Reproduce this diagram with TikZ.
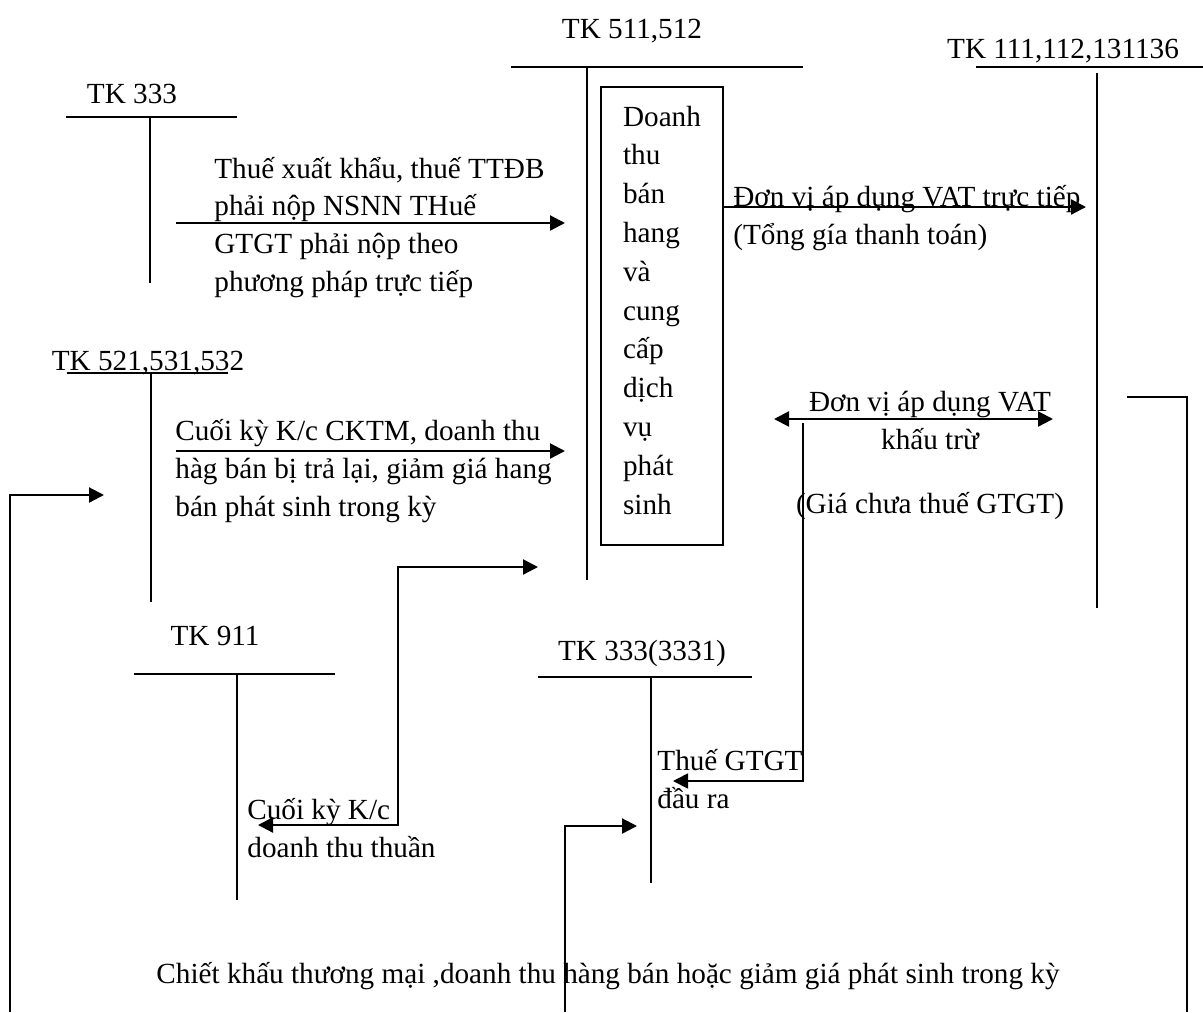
\documentclass[tikz,border=0pt]{standalone}
\usepackage{fontspec}
\setmainfont{Liberation Serif}
\usetikzlibrary{arrows.meta}
\tikzset{
 tk line/.style={line width=.7pt},
 tk flow/.style={line width=1.1pt,-{Triangle[length=7.5pt,width=7.5pt]}},
 tk both/.style={line width=1.1pt,
                 {Triangle[length=7.5pt,width=7.5pt]}-{Triangle[length=7.5pt,width=7.5pt]}},
 tk link/.style={line width=.9pt},
 tk box/.style={draw,line width=.6pt,align=left,inner sep=0pt,text depth=6pt,
                minimum width=61pt,minimum height=229pt,
                font=\fontsize{14.6}{19.4}\selectfont},
 tk label/.style={inner sep=0pt,anchor=base},
 tk note/.style={inner sep=0pt,anchor=base west,align=left}
}

\begin{document}
\begin{tikzpicture}[x=.5pt,y=-.5pt,font=\fontsize{14.6}{18.8}\selectfont]
 \useasboundingbox (0,0) rectangle (1203,1012);
 % T accounts
 \coordinate (t1L) at (66,117);  \coordinate (t1R) at (237,117);
 \coordinate (t1T) at (150,117); \coordinate (t1B) at (150,283);
 \coordinate (t2L) at (511,67);  \coordinate (t2R) at (803,67);
 \coordinate (t2T) at (587,67);  \coordinate (t2B) at (587,580);
 \coordinate (t3L) at (976,67);  \coordinate (t3R) at (1203,67);
 \coordinate (t3T) at (1097,73); \coordinate (t3B) at (1097,608);
 \coordinate (t4L) at (67,373);  \coordinate (t4R) at (228,373);
 \coordinate (t4T) at (151,373); \coordinate (t4B) at (151,602);
 \coordinate (t5L) at (134,674); \coordinate (t5R) at (335,674);
 \coordinate (t5T) at (237,674); \coordinate (t5B) at (237,900);
 \coordinate (t6L) at (538,677); \coordinate (t6R) at (752,677);
 \coordinate (t6T) at (651,677); \coordinate (t6B) at (651,883);
 \foreach \t in {1,...,6} \draw[tk line] (t\t L)--(t\t R) (t\t T)--(t\t B);

 \node[tk label] (k333) at (132,103) {TK 333};
 \node[tk label] (k511) at (632,38) {TK 511,512};
 \node[tk label] (k111) at (1063,58) {TK 111,112,131136};
 \node[tk label] (k521) at (148,370) {TK 521,531,532};
 \node[tk label] (k911) at (215,645) {TK 911};
 \node[tk label] (k3331) at (642,660) {TK 333(3331)};

 \node[tk box] (dt) at (662,316) {Doanh\\thu\\bán\\hang\\và\\cung\\cấp\\dịch\\vụ\\phát\\sinh};

 % flows
 \coordinate (f1s) at (176,223); \coordinate (f1e) at (565,223);
 \draw[tk flow] (f1s)--(f1e);
 \node[tk note] (n1) at (214,291) {Thuế xuất khẩu, thuế TTĐB\\phải nộp NSNN THuế\\GTGT phải nộp theo\\phương pháp trực tiếp};

 \coordinate (f2e) at (1086,207);
 \draw[tk flow] (dt.east |- f2e)--(f2e);
 \node[tk note] (n2) at (733,244) {Đơn vị áp dụng VAT trực tiếp\\(Tổng gía thanh toán)};

 \coordinate (f3s) at (176,451); \coordinate (f3e) at (565,451);
 \draw[tk flow] (f3s)--(f3e);
 \node[tk note] (n3) at (175,516) {Cuối kỳ K/c CKTM, doanh thu\\hàg bán bị trả lại, giảm giá hang\\bán phát sinh trong kỳ};

 \coordinate (f4s) at (10,1012); \coordinate (f4e) at (104,495);
 \draw[tk flow] (f4s)|-(f4e);

 \coordinate (f5s) at (258,825); \coordinate (f5e) at (538,567);
 \draw[tk both] (f5s)-|(398,696)|-(f5e);
 \node[tk note] (n6) at (247,857) {Cuối kỳ K/c\\doanh thu thuần};

 \coordinate (f6s) at (774,419); \coordinate (f6e) at (1053,419);
 \draw[tk both] (f6s)--(f6e);
 \node[tk label,align=center] (n4) at (930,449) {Đơn vị áp dụng VAT\\khấu trừ};
 \node[tk label] (n5) at (930,513) {(Giá chưa thuế GTGT)};

 \coordinate (f7s) at (803,423); \coordinate (f7e) at (673,781);
 \draw[tk link,-{Triangle[length=7.5pt,width=7.5pt]}] (f7s)|-(f7e);
 \node[tk note] (n7) at (657,808) {Thuế GTGT\\đầu ra};

 \coordinate (f8s) at (565,1012); \coordinate (f8e) at (637,826);
 \draw[tk flow] (f8s)|-(f8e);

 \coordinate (f9s) at (1127,397); \coordinate (f9e) at (1187,1012);
 \draw[tk link] (f9s)-|(f9e);

 \node[tk label] (n8) at (608,983) {Chiết khấu thương mại ,doanh thu hàng bán hoặc giảm giá phát sinh trong kỳ};
\end{tikzpicture}
\end{document}
